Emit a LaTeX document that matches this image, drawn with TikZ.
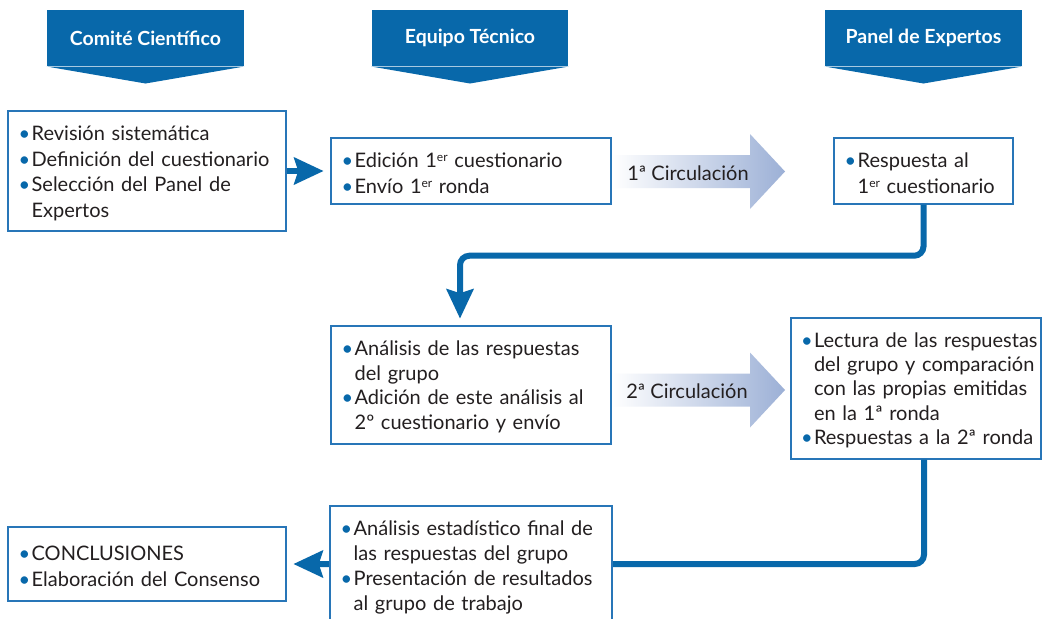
\documentclass[tikz,border=0pt]{standalone}
\usepackage{fontspec}
\setmainfont{Lato}
\usetikzlibrary{arrows.meta}

\definecolor{hdrblue}{RGB}{8,104,170}
\definecolor{boxblue}{RGB}{40,118,184}
\definecolor{txtgray}{RGB}{35,31,32}
\definecolor{circblue}{RGB}{156,176,214}

\newdimen\itmpad \itmpad=5pt
\newcommand{\itm}{\par\leftskip=\itmpad\rightskip=0pt plus 1fil\hyphenpenalty=10000\noindent\hangindent=9.75pt\hangafter=1\makebox[9.75pt][l]{\textcolor{hdrblue}{\textbullet}}}
\newcommand{\itmend}{\par\kern4.5pt}
\newcommand{\nl}{\hfil\break}
\newcommand{\sups}[1]{\raisebox{0.62ex}{\fontsize{9}{9}\selectfont #1}}

\tikzset{every picture/.style={line width=0.75pt}}
\tikzset{
  hdr/.style={fill=hdrblue, text=white, font=\fontsize{14.6}{17}\selectfont\bfseries, minimum width=147.5pt, minimum height=42pt, inner sep=0pt},
  infobox/.style={draw=boxblue, line width=1.1pt, fill=white, text=txtgray, font=\fontsize{15}{19.2}\selectfont, inner xsep=3pt, inner ysep=0pt},
  conn/.style={draw=hdrblue, line width=4.5pt, rounded corners=7pt, -{Stealth[length=22pt,width=20pt,inset=3pt]}, shorten >=5pt},
  circ/.style={left color=white, right color=circblue},
  circtxt/.style={text=txtgray, font=\fontsize{15}{18}\selectfont, inner sep=0.75pt}
}

\begin{document}
\begin{tikzpicture}[x=0.75pt,y=0.75pt,yscale=-1,xscale=1]
\path[use as bounding box, fill=white] (0,0) rectangle (1060,618);

% Headers
\node[hdr] (hComite) at (145.5,38) {Comité Científico};
\fill[hdrblue] (hComite.south west) -- (hComite.south east) -- ([yshift=12.75pt]hComite.south) -- cycle;
\node[hdr] (hEquipo) at (470,38) {Equipo Técnico};
\fill[hdrblue] (hEquipo.south west) -- (hEquipo.south east) -- ([yshift=12.75pt]hEquipo.south) -- cycle;
\node[hdr] (hPanel) at (923.5,38) {Panel de Expertos};
\fill[hdrblue] (hPanel.south west) -- (hPanel.south east) -- ([yshift=12.75pt]hPanel.south) -- cycle;

% Circulation arrows
\shade[circ] (612,155) -- (750,155) -- (750,134) -- (785,171.5) -- (750,209) -- (750,188) -- (612,188) -- cycle;
\node[circtxt] (circ1) at (688,173) {1ª Circulación};
\shade[circ] (612,373.5) -- (750,373.5) -- (750,352.5) -- (785,390) -- (750,427.5) -- (750,406.5) -- (612,406.5) -- cycle;
\node[circtxt] (circ2) at (687,391) {2ª Circulación};

% Boxes
\node[infobox, minimum width=208.5pt, minimum height=90pt, text width=202.5pt] (revision) at (147,171)
  {\itm Revisión sistemática\itm Definición del cuestionario\itm Selección del Panel de\nl Expertos\itmend};
\node[infobox, minimum width=210pt, minimum height=49.5pt, text width=204pt] (edicion) at (471,171)
  {\itm Edición 1\sups{er} cuestionario\itm Envío 1\sups{er} ronda\itmend};
\node[infobox, minimum width=134.25pt, minimum height=49.5pt, text width=128.25pt] (respuesta) at (923.5,171)
  {\itm Respuesta al\nl 1\sups{er} cuestionario\itmend};
\node[infobox, font=\fontsize{15}{18.5}\selectfont, minimum width=210pt, minimum height=88.5pt, text width=204pt] (analisis) at (471,385)
  {\itm Análisis de las respuestas\nl del grupo\itm Adición de este análisis al\nl 2º cuestionario y envío\itmend};
\node[infobox, font=\fontsize{15}{18.2}\selectfont, inner xsep=1pt, minimum width=187.5pt, minimum height=105.75pt, text width=185.5pt] (lectura) at (916,388.5)
  {\itmpad=6.5pt\itm Lectura de las respuestas\nl del grupo y comparación\nl con las propias emitidas\nl en la 1ª ronda\itm Respuestas a la 2ª ronda\itmend};
\node[infobox, minimum width=208.5pt, minimum height=55.5pt, text width=202.5pt] (conclusiones) at (147,564)
  {\itm CONCLUSIONES\itm Elaboración del Consenso\itmend};

% Connectors
\draw[conn] (revision) -- (edicion);
\draw[conn] (respuesta.south) -- ++(0,51) -| ([xshift=-8.25pt]analisis.north);
\draw[conn] ([xshift=6pt]lectura.south) |- (conclusiones.east);

% Box over the last connector
\node[infobox, font=\fontsize{15}{18.75}\selectfont, minimum width=211.5pt, minimum height=88.5pt, text width=205.5pt] (estadistico) at (471,565)
  {\itm Análisis estadístico final de\nl las respuestas del grupo\itm Presentación de resultados\nl al grupo de trabajo\itmend};

\end{tikzpicture}
\end{document}
